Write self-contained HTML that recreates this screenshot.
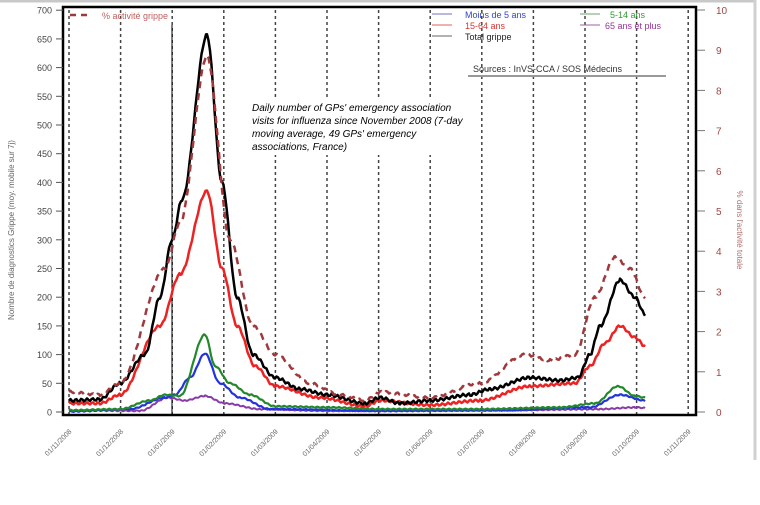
<!DOCTYPE html>
<html><head><meta charset="utf-8"><style>
body{margin:0;background:#fff;width:760px;height:500px;overflow:hidden;font-family:"Liberation Sans",sans-serif}
</style></head><body>
<svg id="s" width="760" height="500" xmlns="http://www.w3.org/2000/svg" font-family="Liberation Sans, sans-serif">
<rect x="0" y="0" width="760" height="500" fill="#fff"/>
<line x1="0" y1="1" x2="756" y2="1" stroke="#c8c8c8" stroke-width="3"/>
<line x1="755" y1="0" x2="755" y2="460" stroke="#d0d0d0" stroke-width="3"/>
<g id="grid"></g>
<rect x="248" y="97" width="200" height="58" fill="#fff"/>
<line x1="172" y1="25" x2="172" y2="415" stroke="#000" stroke-width="1"/>
<rect x="63" y="7" width="633" height="408" fill="none" stroke="#000" stroke-width="2.5"/>
<g id="axes" font-size="10" fill="#444"></g>
<g id="series"></g>
<line x1="70" y1="15" x2="90" y2="15" stroke="#a0393c" stroke-width="2.5" stroke-dasharray="6,5"/>
<text x="102" y="19" font-size="9" fill="#c06060">% activité grippe</text>
<line x1="432" y1="14" x2="452" y2="14" stroke="#7070c0"/><text x="465" y="18" font-size="9" fill="#3344cc">Moins de 5 ans</text>
<line x1="432" y1="25" x2="452" y2="25" stroke="#e06060"/><text x="465" y="29" font-size="9" fill="#dd3333">15-64 ans</text>
<line x1="432" y1="36" x2="452" y2="36" stroke="#666"/><text x="465" y="40" font-size="9" fill="#222">Total grippe</text>
<line x1="580" y1="14" x2="600" y2="14" stroke="#70a070"/><text x="610" y="18" font-size="9" fill="#339933">5-14 ans</text>
<line x1="580" y1="25" x2="600" y2="25" stroke="#a060a0"/><text x="605" y="29" font-size="9" fill="#993399">65 ans et plus</text>
<text x="473" y="72" font-size="9" fill="#333">Sources : InVS-CCA / SOS Médecins</text>
<line x1="468" y1="76" x2="666" y2="76" stroke="#999" stroke-width="2"/>
<g font-size="10" font-style="italic" fill="#000">
<text x="252" y="111">Daily number of GPs' emergency association</text>
<text x="252" y="124">visits for influenza since November 2008 (7-day</text>
<text x="252" y="137">moving average, 49 GPs' emergency</text>
<text x="252" y="150">associations, France)</text>
</g>
<text transform="translate(14,230) rotate(-90)" text-anchor="middle" font-size="8" fill="#666">Nombre de diagnostics Grippe (moy. mobile sur 7j)</text>
<text transform="translate(737,230) rotate(90)" text-anchor="middle" font-size="8" fill="#b07070">% dans l'activité totale</text>
</svg>
<script>
var NS="http://www.w3.org/2000/svg";
function el(p,t,a,txt){var e=document.createElementNS(NS,t);for(var k in a)e.setAttribute(k,a[k]);if(txt!=null)e.textContent=txt;p.appendChild(e);return e;}
function Y(v){return 412-v*0.574;}
var grid=document.getElementById('grid'),axes=document.getElementById('axes'),ser=document.getElementById('series');
var labels=["01/11/2008","01/12/2008","01/01/2009","01/02/2009","01/03/2009","01/04/2009","01/05/2009","01/06/2009","01/07/2009","01/08/2009","01/09/2009","01/10/2009","01/11/2009"];
for(var i=0;i<13;i++){var x=69+i*51.6;
 el(grid,'line',{x1:x,y1:10,x2:x,y2:414,stroke:'#444','stroke-width':1.5,'stroke-dasharray':'3,3'});
 el(axes,'text',{transform:'translate('+(x+3)+',432) rotate(-45)','text-anchor':'end','font-size':7,fill:'#666'},labels[i]);}
for(var v=0;v<=700;v+=50){var y=Y(v);el(axes,'line',{x1:56,y1:y,x2:63,y2:y,stroke:'#555'});
 el(axes,'text',{x:52,y:y+3.5,'text-anchor':'end','font-size':9,fill:'#444'},v);}
for(var r=0;r<=10;r++){var y=412-r*40.2;el(axes,'line',{x1:697,y1:y,x2:705,y2:y,stroke:'#777'});
 el(axes,'text',{x:716,y:y+4,'font-size':10,fill:'#a04444'},r);}
function interp(pts){var out=[];for(var i=0;i<pts.length-1;i++){var a=pts[i],b=pts[i+1];for(var x=a[0];x<b[0];x+=1.5){var t=(x-a[0])/(b[0]-a[0]);t=t*t*(3-2*t);out.push([x,a[1]+(b[1]-a[1])*t]);}}out.push(pts[pts.length-1]);return out;}
function line(pts,col,w,dash,jit){var p=interp(pts).map(function(q,i){return q[0].toFixed(1)+','+Y(q[1]+(jit?Math.sin(i*1.7)*jit:0)).toFixed(1)}).join(' ');
 var a={points:p,fill:'none',stroke:col,'stroke-width':w,'stroke-linejoin':'round'};if(dash)a['stroke-dasharray']=dash;el(ser,'polyline',a);}
line([[69,3],[140,2],[168,25],[185,20],[205,28],[225,15],[260,5],[330,2],[500,3],[600,5],[635,8],[645,7]],'#8a3aa8',2,null,1);
line([[69,1],[130,5],[165,25],[175,30],[190,60],[205,102],[220,50],[240,25],[270,5],[380,2],[500,3],[590,8],[620,30],[645,20]],'#2233dd',2.2,null,1);
line([[69,3],[120,5],[150,20],[165,30],[180,28],[205,135],[215,80],[230,50],[250,30],[275,10],[330,8],[380,5],[480,5],[560,8],[595,15],[618,45],[635,28],[645,25]],'#22882a',2.2,null,1);
line([[69,15],[100,15],[120,30],[160,150],[180,240],[207,385],[222,250],[237,150],[255,80],[275,45],[320,25],[365,10],[380,20],[430,12],[480,20],[530,45],[575,50],[590,80],[605,120],[620,150],[635,130],[645,115]],'#ee2222',2.5,null,2);
line([[69,20],[100,22],[120,50],[145,100],[160,200],[172,300],[182,370],[207,657],[222,400],[237,200],[253,100],[275,60],[300,40],[327,30],[365,15],[380,25],[400,15],[430,20],[470,30],[490,40],[530,60],[560,55],[578,60],[590,100],[600,150],[620,230],[635,200],[645,170]],'#000',2.5,null,2.5);
line([[69,35],[100,30],[120,50],[165,250],[180,330],[207,620],[230,300],[253,150],[275,100],[310,50],[340,30],[365,20],[380,35],[430,25],[480,50],[525,100],[550,90],[575,100],[595,200],[615,270],[630,250],[645,200]],'#a0393c',2.5,'7,5',2);
</script>
</body></html>
